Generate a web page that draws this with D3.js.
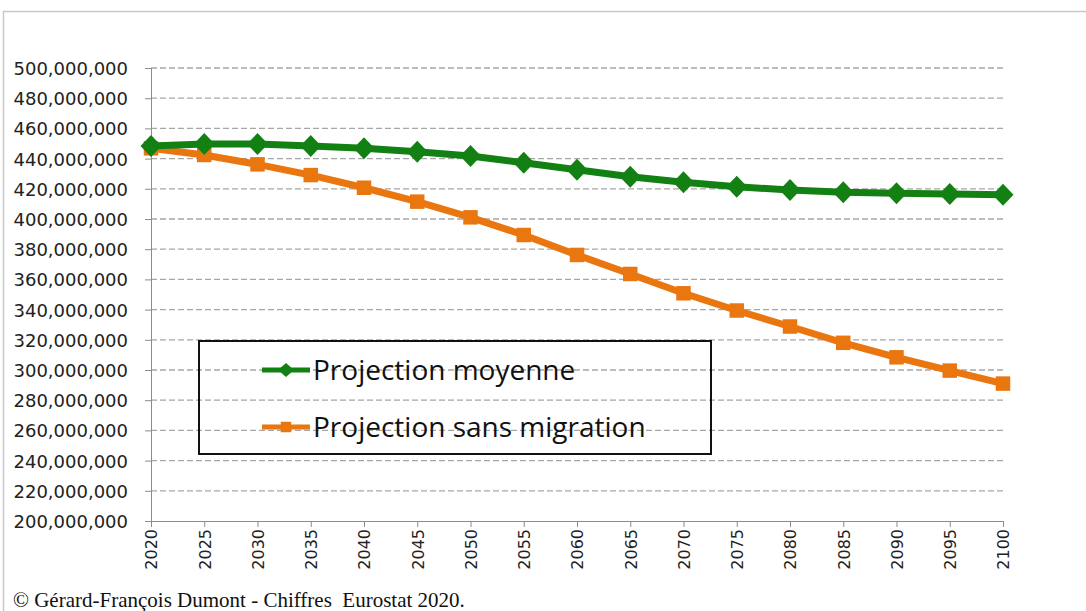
<!DOCTYPE html>
<html lang="en">
<head>
    <meta charset="UTF-8">
    <title>Projection population</title>
    <script src="https://cdn.jsdelivr.net/npm/d3@7"></script>
    <style>
        body { margin: 0; background: #fff; }
        svg { display: block; }
        .grid line { stroke: #a6a6a6; stroke-dasharray: 6,3; stroke-width: 1.3; }
        .axis path, .axis line { stroke: #8c8c8c; }
        .axis text { font-family: "DejaVu Sans", sans-serif; fill: #222; }
    </style>
</head>
<body>
    <svg width="1086" height="611"></svg>

    <script>
        // data
        const years = [2020, 2025, 2030, 2035, 2040, 2045, 2050, 2055, 2060,
                       2065, 2070, 2075, 2080, 2085, 2090, 2095, 2100];
        const moyenne = [448.3, 449.6, 449.6, 448.3, 446.8, 444.6, 441.7, 437.3, 432.6,
                         428.0, 424.3, 421.4, 419.2, 417.7, 417.0, 416.6, 416.0];
        const sansMigration = [446.8, 442.4, 436.2, 429.1, 420.7, 411.5, 401.1, 389.4, 376.2,
                               363.6, 350.8, 339.4, 328.8, 318.0, 308.4, 299.6, 291.0];
        const yTicks = d3.range(200, 501, 20);
        const series = [
            { name: "Projection moyenne", values: moyenne, color: "#138013", marker: "diamond" },
            { name: "Projection sans migration", values: sansMigration, color: "#ea760f", marker: "square" }
        ];

        const svg = d3.select("svg");

        // outer frame
        svg.append("rect")
            .attr("x", 3.5).attr("y", 11.5)
            .attr("width", 1100).attr("height", 620)
            .attr("fill", "none").attr("stroke", "#c8c8c8").attr("stroke-width", 1.5);

        const x = d3.scalePoint().domain(years).range([151, 1003]);
        const y = d3.scaleLinear().domain([200, 500]).range([521, 68]);

        // gridlines
        svg.append("g").attr("class", "grid")
            .selectAll("line").data(yTicks.filter(d => d > 200))
            .join("line")
            .attr("x1", 151).attr("x2", 1003)
            .attr("y1", d => y(d)).attr("y2", d => y(d));

        // y axis
        const fmt = d3.format(",");
        const yAxis = svg.append("g").attr("class", "axis")
            .attr("transform", "translate(151,0)")
            .call(d3.axisLeft(y).tickValues(yTicks).tickSize(6).tickPadding(17)
                .tickFormat(d => fmt(d * 1e6)));
        yAxis.selectAll("text").attr("font-size", 18).attr("dy", "0.36em");

        // x axis
        const xAxis = svg.append("g").attr("class", "axis")
            .attr("transform", "translate(0,521)")
            .call(d3.axisBottom(x).tickSize(6).tickPadding(8));
        xAxis.select(".domain").attr("stroke", "#999");
        xAxis.selectAll("text")
            .attr("font-size", 16)
            .attr("transform", "rotate(-90)")
            .attr("text-anchor", "end")
            .attr("x", -8).attr("y", 0).attr("dy", "0.36em");

        // markers
        const diamond = "M0,-11L10.5,0L0,11L-10.5,0Z";
        const smallDiamond = "M0,-7L8,0L0,7L-8,0Z";
        const square = d3.symbol().type(d3.symbolSquare).size(210)();
        const smallSquare = d3.symbol().type(d3.symbolSquare).size(110)();

        const line = d3.line().x((d, i) => x(years[i])).y(d => y(d));

        series.slice().reverse().forEach(s => {
            const g = svg.append("g");
            g.append("path")
                .attr("d", line(s.values))
                .attr("fill", "none")
                .attr("stroke", s.color)
                .attr("stroke-width", 7)
                .attr("stroke-linejoin", "round");
            g.selectAll("path.m").data(s.values).join("path")
                .attr("class", "m")
                .attr("d", s.marker === "diamond" ? diamond : square)
                .attr("transform", (d, i) => `translate(${x(years[i])},${y(d)})`)
                .attr("fill", s.color);
        });

        // legend
        const legend = svg.append("g");
        legend.append("rect")
            .attr("x", 199).attr("y", 341)
            .attr("width", 512).attr("height", 113)
            .attr("fill", "none").attr("stroke", "#111").attr("stroke-width", 2);
        series.forEach((s, i) => {
            const ly = 370 + i * 57;
            legend.append("line")
                .attr("x1", 262).attr("x2", 310)
                .attr("y1", ly).attr("y2", ly)
                .attr("stroke", s.color).attr("stroke-width", 5);
            legend.append("path")
                .attr("d", s.marker === "diamond" ? smallDiamond : smallSquare)
                .attr("transform", `translate(286,${ly})`)
                .attr("fill", s.color);
            legend.append("text")
                .attr("x", 313).attr("y", ly)
                .attr("dy", "0.36em")
                .attr("font-family", "Open Sans, sans-serif")
                .attr("font-size", 28)
                .attr("fill", "#111")
                .text(s.name);
        });

        // source note
        svg.append("text")
            .attr("x", 13).attr("y", 607)
            .attr("font-family", "Liberation Serif, serif")
            .attr("font-size", 21)
            .attr("fill", "#111")
            .text("© Gérard-François Dumont - Chiffres  Eurostat 2020.")
            .style("white-space", "pre");
    </script>
</body>
</html>
